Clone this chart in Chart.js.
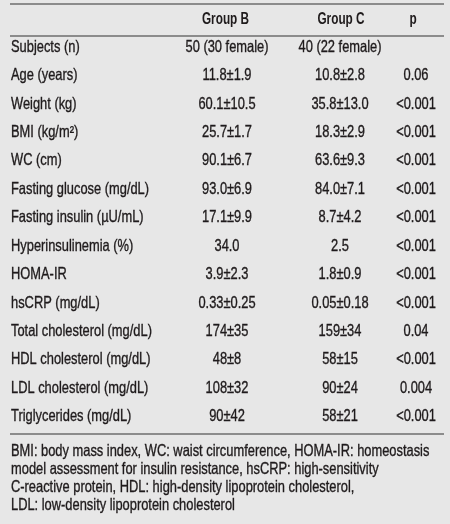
<!DOCTYPE html>
<html>
<head>
<meta charset="utf-8">
<script src="https://cdn.jsdelivr.net/npm/chart.js@4/dist/chart.umd.min.js"></script>
<style>
  html, body { margin: 0; padding: 0; background: #e7e7e7; }
  #wrap { width: 450px; height: 524px; }
</style>
</head>
<body>
<div id="wrap"><canvas id="c" width="450" height="524"></canvas></div>
<script>
// ---- data ----
const rowLabels = ['Subjects (n)', 'Age (years)', 'Weight (kg)', 'BMI (kg/m²)', 'WC (cm)',
  'Fasting glucose (mg/dL)', 'Fasting insulin (µU/mL)', 'Hyperinsulinemia (%)', 'HOMA-IR',
  'hsCRP (mg/dL)', 'Total cholesterol (mg/dL)', 'HDL cholesterol (mg/dL)',
  'LDL cholesterol (mg/dL)', 'Triglycerides (mg/dL)'];
const columnHeaders = ['Group B', 'Group C', 'p'];
const groupB = ['50 (30 female)', '11.8±1.9', '60.1±10.5', '25.7±1.7', '90.1±6.7', '93.0±6.9',
  '17.1±9.9', '34.0', '3.9±2.3', '0.33±0.25', '174±35', '48±8', '108±32', '90±42'];
const groupC = ['40 (22 female)', '10.8±2.8', '35.8±13.0', '18.3±2.9', '63.6±9.3', '84.0±7.1',
  '8.7±4.2', '2.5', '1.8±0.9', '0.05±0.18', '159±34', '58±15', '90±24', '58±21'];
const pValues = ['', '0.06', '<0.001', '<0.001', '<0.001', '<0.001', '<0.001', '<0.001',
  '<0.001', '<0.001', '0.04', '<0.001', '0.004', '<0.001'];
const footnote = [
  'BMI: body mass index, WC: waist circumference, HOMA-IR: homeostasis',
  'model assessment for insulin resistance, hsCRP: high-sensitivity',
  'C-reactive protein, HDL: high-density lipoprotein cholesterol,',
  'LDL: low-density lipoprotein cholesterol'
];

// ---- style / layout ----
const FONT = '"Liberation Sans", Arial, sans-serif';
const SQUEEZE = 0.78;
const SQUEEZE_BOLD = 0.715;
const TEXT = '#1f1b1c';
const RULE = '#8c8c8c';
const colCenters = [227, 340, 416];
const headCenters = [225.5, 341, 413];

function narrowText(ctx, text, x, y, align, sq, thicken) {
  ctx.save();
  ctx.translate(x, y);
  ctx.scale(sq, 1);
  ctx.textAlign = align;
  ctx.textBaseline = 'middle';
  ctx.fillText(text, 0, 0);
  if (thicken) {
    ctx.lineWidth = thicken;
    ctx.strokeStyle = TEXT;
    ctx.strokeText(text, 0, 0);
  }
  ctx.restore();
}

const tablePlugin = {
  id: 'tablePlugin',
  beforeDraw(chart) {
    const ctx = chart.ctx;
    ctx.save();
    ctx.fillStyle = '#e7e7e7';
    ctx.fillRect(0, 0, chart.width, chart.height);
    ctx.restore();
  },
  afterDraw(chart) {
    const ctx = chart.ctx;
    const xs = chart.scales.x, ys = chart.scales.y;
    const area = chart.chartArea;
    ctx.save();
    // rules
    ctx.strokeStyle = RULE;
    ctx.lineWidth = 2;
    [area.top - 29, area.top + 3, area.bottom + 3].forEach(y => {
      ctx.beginPath();
      ctx.moveTo(10, y);
      ctx.lineTo(444, y);
      ctx.stroke();
    });
    ctx.fillStyle = TEXT;
    // headers
    ctx.font = 'bold 16.5px ' + FONT;
    columnHeaders.forEach((h, i) => {
      narrowText(ctx, h, xs.getPixelForValue(headCenters[i]), area.top - 14, 'center', SQUEEZE_BOLD, 0);
    });
    // row labels (category axis labels)
    ctx.font = '16.5px ' + FONT;
    ys.getLabels().forEach((lab, ri) => {
      narrowText(ctx, lab, area.left, ys.getPixelForValue(ri), 'left', SQUEEZE, 0.35);
    });
    // cells
    const cols = [groupB, groupC, pValues];
    cols.forEach((col, ci) => {
      col.forEach((v, ri) => {
        if (!v) return;
        narrowText(ctx, v, xs.getPixelForValue(colCenters[ci]), ys.getPixelForValue(ri), 'center', SQUEEZE, 0.35);
      });
    });
    // footnote
    footnote.forEach((line, i) => {
      narrowText(ctx, line, area.left, area.bottom + 20 + i * 18.3, 'left', SQUEEZE, 0.35);
    });
    ctx.restore();
  }
};

new Chart(document.getElementById('c'), {
  type: 'scatter',
  data: { labels: rowLabels, datasets: [] },
  options: {
    responsive: false,
    animation: false,
    devicePixelRatio: 1,
    layout: { padding: { top: 33, bottom: 93, left: 11, right: 0 } },
    plugins: { legend: { display: false }, tooltip: { enabled: false } },
    scales: {
      x: { type: 'linear', min: 11, max: 450, display: false },
      y: { type: 'category', labels: rowLabels, offset: true, display: false }
    }
  },
  plugins: [tablePlugin]
});
</script>
</body>
</html>
